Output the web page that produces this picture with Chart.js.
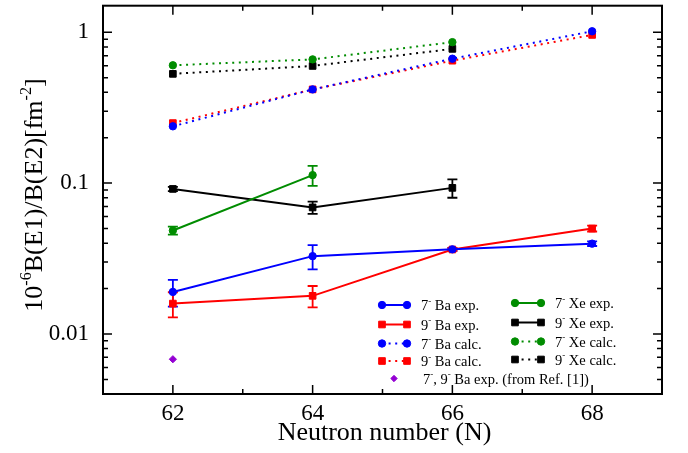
<!DOCTYPE html>
<html><head><meta charset="utf-8">
<script src="https://cdn.jsdelivr.net/npm/chart.js@4/dist/chart.umd.min.js"></script>
<style>html,body{margin:0;padding:0;background:#fff}#wrap{width:688px;height:453px;position:relative}</style>
</head><body><div id="wrap"><canvas id="c" width="688" height="453"></canvas></div>
<script>
// ---- data ----
const NEUTRONS = [62, 64, 66, 68];
const X_TICKS = [62, 64, 66, 68];
const Y_TICKS = [0.01, 0.1, 1];
const Y_TICK_LABELS = ['0.01', '0.1', '1'];

const BA7_EXP = [0.0190, 0.0328, 0.0364, 0.0397];
const BA7_EXP_ERR = [0.0038, 0.0060, 0.0008, 0.0014];
const BA9_EXP = [0.0159, 0.0179, 0.0363, 0.0500];
const BA9_EXP_ERR = [0.0030, 0.0029, 0.0008, 0.0022];
const BA7_CALC = [0.238, 0.418, 0.668, 1.015];
const BA9_CALC = [0.250, 0.418, 0.648, 0.960];
const XE7_EXP = [0.0485, 0.113, null, null];
const XE7_EXP_ERR = [0.0030, 0.017, null, null];
const XE9_EXP = [0.0915, 0.069, 0.093, null];
const XE9_EXP_ERR = [0.0030, 0.0065, 0.013, null];
const XE7_CALC = [0.604, 0.661, 0.860, null];
const XE9_CALC = [0.530, 0.598, 0.776, null];
const REF1_N = [62];
const REF1_BA = [0.0068];

const LABELS = [
  '7⁻ Ba exp.', '9⁻ Ba exp.', '7⁻ Ba calc.', '9⁻ Ba calc.',
  '7⁻ Xe exp.', '9⁻ Xe exp.', '7⁻ Xe calc.', '9⁻ Xe calc.',
  '7⁻, 9⁻ Ba exp. (from Ref. [1])'
];
const X_TITLE = 'Neutron number (N)';
const Y_TITLE = '10⁻⁶B(E1)/B(E2)[fm⁻²]';

// ---- styles ----
const BLUE = '#0000ff', RED = '#ff0000', GREEN = 'rgb(0,140,0)', BLACK = '#000000', PURPLE = 'rgb(148,0,211)';
const DOT = [2, 4.6];
const SERIF = '"Liberation Serif", "Times New Roman", serif';

function pts(xs, ys) {
  return xs.map((x, i) => ({ x: x, y: ys[i] })).filter(p => p.y != null);
}
function ds(label, xs, ys, color, style, radius, dashed, err) {
  return {
    label: label, data: pts(xs, ys), err: err || null,
    borderColor: color, backgroundColor: color,
    pointBackgroundColor: color, pointBorderColor: color,
    pointStyle: style, pointRadius: radius, pointBorderWidth: 1,
    borderWidth: 2, borderDash: dashed ? DOT : [], borderCapStyle: 'butt',
    showLine: true, tension: 0, fill: false
  };
}

const datasets = [
  ds(LABELS[0], NEUTRONS, BA7_EXP, BLUE, 'circle', 3.7, false, BA7_EXP_ERR),
  ds(LABELS[1], NEUTRONS, BA9_EXP, RED, 'rect', 4.7, false, BA9_EXP_ERR),
  ds(LABELS[2], NEUTRONS, BA7_CALC, BLUE, 'circle', 3.7, true),
  ds(LABELS[3], NEUTRONS, BA9_CALC, RED, 'rect', 4.7, true),
  ds(LABELS[4], NEUTRONS, XE7_EXP, GREEN, 'circle', 3.7, false, XE7_EXP_ERR),
  ds(LABELS[5], NEUTRONS, XE9_EXP, BLACK, 'rect', 4.7, false, XE9_EXP_ERR),
  ds(LABELS[6], NEUTRONS, XE7_CALC, GREEN, 'circle', 3.7, true),
  ds(LABELS[7], NEUTRONS, XE9_CALC, BLACK, 'rect', 4.7, true),
  Object.assign(ds(LABELS[8], REF1_N, REF1_BA, PURPLE, 'rectRot', 3.6, false), { showLine: false })
];

// rich text: unicode superscripts rendered as raised small text
const SUP = { '⁻': '-', '⁶': '6', '²': '2', '⁰': '0', '¹': '1' };
function segs(str) {
  const out = [];
  for (const ch of str) {
    const sup = SUP[ch] !== undefined;
    const t = sup ? SUP[ch] : ch;
    if (out.length && out[out.length - 1].sup === sup) out[out.length - 1].t += t;
    else out.push({ t: t, sup: sup });
  }
  return out;
}
function richWidth(ctx, str, size) {
  let w = 0;
  for (const s of segs(str)) {
    ctx.font = (s.sup ? size * 0.62 : size) + 'px ' + SERIF;
    w += ctx.measureText(s.t).width;
  }
  return w;
}
function drawRich(ctx, str, x, y, size, align) {
  let cx = x;
  if (align === 'center') cx = x - richWidth(ctx, str, size) / 2;
  ctx.textAlign = 'left';
  ctx.textBaseline = 'alphabetic';
  for (const s of segs(str)) {
    ctx.font = (s.sup ? size * 0.62 : size) + 'px ' + SERIF;
    ctx.fillText(s.t, cx, s.sup ? y - size * 0.42 : y);
    cx += ctx.measureText(s.t).width;
  }
}

function marker(ctx, d, x, y) {
  Chart.helpers.drawPoint(ctx, {
    pointStyle: d.pointStyle, radius: d.pointRadius, rotation: 0, borderWidth: d.pointBorderWidth
  }, x, y);
}

const decor = {
  id: 'decor',
  beforeDatasetsDraw(chart) {
    const ctx = chart.ctx, xs = chart.scales.x, ys = chart.scales.y;
    ctx.save();
    chart.data.datasets.forEach(d => {
      if (!d.err) return;
      ctx.strokeStyle = d.borderColor; ctx.lineWidth = 1.8; ctx.setLineDash([]);
      d.data.forEach((p, i) => {
        const e = d.err[i];
        if (e == null) return;
        const px = xs.getPixelForValue(p.x);
        const y1 = ys.getPixelForValue(p.y + e), y2 = ys.getPixelForValue(p.y - e);
        ctx.beginPath();
        ctx.moveTo(px, y1); ctx.lineTo(px, y2);
        ctx.moveTo(px - 5, y1); ctx.lineTo(px + 5, y1);
        ctx.moveTo(px - 5, y2); ctx.lineTo(px + 5, y2);
        ctx.stroke();
      });
    });
    ctx.restore();
  },
  afterDraw(chart) {
    const ctx = chart.ctx, a = chart.chartArea, xs = chart.scales.x, ys = chart.scales.y;
    ctx.save();
    ctx.setLineDash([]);
    ctx.strokeStyle = '#000';
    // frame
    ctx.lineWidth = 2;
    ctx.strokeRect(a.left, a.top, a.right - a.left, a.bottom - a.top);
    // x ticks (inward, top and bottom)
    ctx.lineWidth = 1.5;
    ctx.beginPath();
    const xMinor = X_TICKS.slice(0, -1).map((v, i) => (v + X_TICKS[i + 1]) / 2);
    X_TICKS.forEach(v => {
      const px = xs.getPixelForValue(v);
      ctx.moveTo(px, a.bottom); ctx.lineTo(px, a.bottom - 9);
      ctx.moveTo(px, a.top); ctx.lineTo(px, a.top + 9);
    });
    xMinor.forEach(v => {
      const px = xs.getPixelForValue(v);
      ctx.moveTo(px, a.bottom); ctx.lineTo(px, a.bottom - 5);
      ctx.moveTo(px, a.top); ctx.lineTo(px, a.top + 5);
    });
    // y ticks
    for (let k = -3; k <= 0; k++) {
      for (let m = 1; m <= 9; m++) {
        const v = m * Math.pow(10, k);
        if (v < ys.min * 0.999 || v > ys.max) continue;
        const py = ys.getPixelForValue(v);
        const len = m === 1 ? 9 : 5;
        ctx.moveTo(a.left, py); ctx.lineTo(a.left + len, py);
        ctx.moveTo(a.right, py); ctx.lineTo(a.right - len, py);
      }
    }
    ctx.stroke();
    // titles
    ctx.fillStyle = '#000';
    drawRich(ctx, X_TITLE, (a.left + a.right) / 2 + 2, 440, 26, 'center');
    ctx.save();
    ctx.translate(42, 195);
    ctx.rotate(-Math.PI / 2);
    drawRich(ctx, Y_TITLE, 0, 0, 26, 'center');
    ctx.restore();
    // legend
    const cols = [
      { x0: 382, x1: 407, tx: 421, rows: [305, 324.5, 343.5, 361], idx: [0, 1, 2, 3] },
      { x0: 515, x1: 541, tx: 555, rows: [303, 322.5, 341.5, 359.5], idx: [4, 5, 6, 7] }
    ];
    const dsets = chart.data.datasets;
    cols.forEach(c => {
      c.idx.forEach((di, r) => {
        const d = dsets[di], y = c.rows[r];
        ctx.strokeStyle = d.borderColor; ctx.fillStyle = d.borderColor;
        ctx.lineWidth = 2; ctx.setLineDash(d.borderDash); ctx.lineCap = 'butt';
        ctx.beginPath(); ctx.moveTo(c.x0, y); ctx.lineTo(c.x1, y); ctx.stroke();
        ctx.setLineDash([]); ctx.lineWidth = 1;
        marker(ctx, d, c.x0, y); marker(ctx, d, c.x1, y);
        ctx.fillStyle = '#000';
        drawRich(ctx, d.label, c.tx, y + 5, 14.5, 'left');
      });
    });
    const dp = dsets[8];
    ctx.fillStyle = dp.borderColor; ctx.strokeStyle = dp.borderColor; ctx.lineWidth = 1;
    marker(ctx, Object.assign({}, dp, { pointRadius: 3.2 }), 394, 378.5);
    ctx.fillStyle = '#000';
    drawRich(ctx, dp.label, 423, 383.5, 14.5, 'left');
    ctx.restore();
  }
};

new Chart(document.getElementById('c'), {
  type: 'line',
  data: { datasets: datasets },
  options: {
    responsive: false, animation: false, devicePixelRatio: 1,
    layout: { padding: { top: 4, right: 26, left: 0, bottom: 0 } },
    plugins: { legend: { display: false }, tooltip: { enabled: false } },
    scales: {
      x: {
        type: 'linear', min: 61, max: 69, bounds: 'data',
        afterBuildTicks: s => { s.ticks = X_TICKS.map(v => ({ value: v })); },
        afterFit: s => { s.height = 59; s.paddingLeft = 0; s.paddingRight = 0; },
        grid: { display: false, drawTicks: false }, border: { display: false },
        ticks: { padding: 6, color: '#000', maxRotation: 0, autoSkip: false,
          font: { family: SERIF, size: 23 }, callback: (v, i) => String(X_TICKS[i]) }
      },
      y: {
        type: 'logarithmic', min: 0.004, max: 1.5, bounds: 'data',
        afterBuildTicks: s => { s.ticks = Y_TICKS.map(v => ({ value: v })); },
        afterFit: s => { s.width = 103; s.paddingTop = 0; s.paddingBottom = 0; },
        grid: { display: false, drawTicks: false }, border: { display: false },
        ticks: { padding: 14, color: '#000', autoSkip: false,
          font: { family: SERIF, size: 23 }, callback: (v, i) => Y_TICK_LABELS[i] }
      }
    }
  },
  plugins: [decor]
});
</script>
</body></html>
